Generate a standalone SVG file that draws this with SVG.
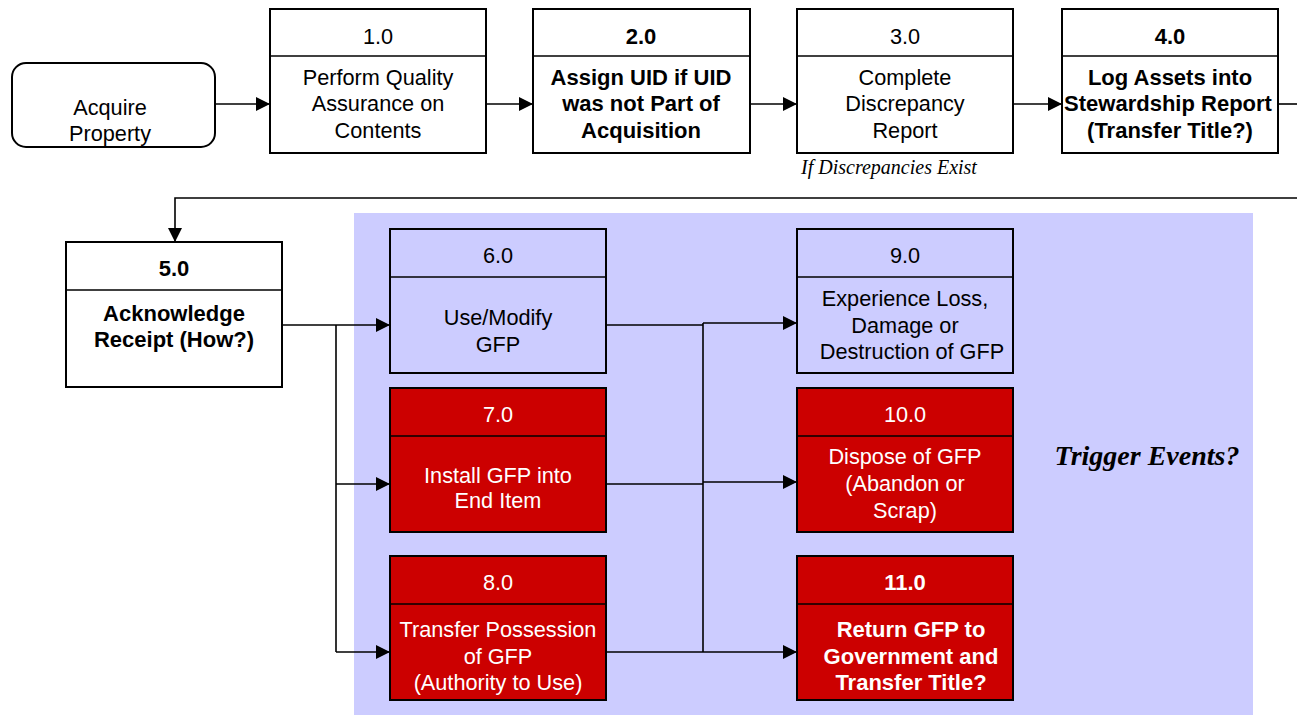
<svg xmlns="http://www.w3.org/2000/svg" width="1297" height="715" viewBox="0 0 1297 715">
<style>
.box{stroke:#000;stroke-width:2}
.w{fill:#fff}
.b{fill:#ccccff}
.r{fill:#cc0000}
.div{stroke:#000;stroke-width:1.5}
text{font-family:"Liberation Sans",Arial,sans-serif;font-size:21.7px;text-anchor:middle}
.bold{font-weight:bold;font-size:22px}
.wt{fill:#fff}
.con{fill:none;stroke:#000;stroke-width:1.6}
.serif{font-family:"Liberation Serif","Times New Roman",serif;font-style:italic}
</style>
<defs>
<marker id="ah" viewBox="0 0 14 14" refX="14" refY="7" markerWidth="14" markerHeight="14" markerUnits="userSpaceOnUse" orient="auto">
<path d="M0,0 L14,7 L0,14 Z" fill="#000"/>
</marker>
</defs>
<rect x="354" y="213" width="899" height="502" fill="#ccccff"/>
<g id="connectors">
<path class="con" d="M215,104 H270" marker-end="url(#ah)"/>
<path class="con" d="M486,104 H533" marker-end="url(#ah)"/>
<path class="con" d="M750,104 H797" marker-end="url(#ah)"/>
<path class="con" d="M1013,104 H1062" marker-end="url(#ah)"/>
<path class="con" d="M1278,104 H1297"/>
<path class="con" d="M1297,198 H175 V242" marker-end="url(#ah)"/>
<path class="con" d="M282,325 H390" marker-end="url(#ah)"/>
<path class="con" d="M336,325 V652"/>
<path class="con" d="M336,484 H390" marker-end="url(#ah)"/>
<path class="con" d="M336,652 H390" marker-end="url(#ah)"/>
<path class="con" d="M606,325 H703"/>
<path class="con" d="M703,323 H797" marker-end="url(#ah)"/>
<path class="con" d="M703,323 V652"/>
<path class="con" d="M606,484 H703"/>
<path class="con" d="M703,482 H797" marker-end="url(#ah)"/>
<path class="con" d="M606,652 H797" marker-end="url(#ah)"/>
</g>
<g id="acquire">
<rect class="box w" x="12" y="63" width="203" height="84" rx="14"/>
<text x="110" y="115">Acquire</text>
<text x="110" y="141">Property</text>
</g>
<g id="n1">
<rect class="box w" x="270" y="9" width="216" height="144"/>
<line class="div" x1="270" y1="56" x2="486" y2="56"/>
<text x="378" y="44">1.0</text>
<text x="378" y="85">Perform Quality</text>
<text x="378" y="111">Assurance on</text>
<text x="378" y="138">Contents</text>
</g>
<g id="n2">
<rect class="box w" x="533" y="9" width="217" height="144"/>
<line class="div" x1="533" y1="56" x2="750" y2="56"/>
<text class="bold" x="641" y="44">2.0</text>
<text class="bold" x="641" y="85">Assign UID if UID</text>
<text class="bold" x="641" y="111">was not Part of</text>
<text class="bold" x="641" y="138">Acquisition</text>
</g>
<g id="n3">
<rect class="box w" x="797" y="9" width="216" height="144"/>
<line class="div" x1="797" y1="56" x2="1013" y2="56"/>
<text x="905" y="44">3.0</text>
<text x="905" y="85">Complete</text>
<text x="905" y="111">Discrepancy</text>
<text x="905" y="138">Report</text>
<text class="serif" x="889" y="174" style="font-size:20px">If Discrepancies Exist</text>
</g>
<g id="n4">
<rect class="box w" x="1062" y="9" width="216" height="144"/>
<line class="div" x1="1062" y1="56" x2="1278" y2="56"/>
<text class="bold" x="1170" y="44">4.0</text>
<text class="bold" x="1170" y="85">Log Assets into</text>
<text class="bold" x="1168" y="111">Stewardship Report</text>
<text class="bold" x="1170" y="138">(Transfer Title?)</text>
</g>
<g id="n5">
<rect class="box w" x="66" y="242" width="216" height="145"/>
<line class="div" x1="66" y1="290" x2="282" y2="290"/>
<text class="bold" x="174" y="276">5.0</text>
<text class="bold" x="174" y="321">Acknowledge</text>
<text class="bold" x="174" y="347">Receipt (How?)</text>
</g>
<g id="n6">
<rect class="box b" x="390" y="229" width="216" height="144"/>
<line class="div" x1="390" y1="277" x2="606" y2="277"/>
<text x="498" y="263">6.0</text>
<text x="498" y="325">Use/Modify</text>
<text x="498" y="352">GFP</text>
</g>
<g id="n9">
<rect class="box b" x="797" y="229" width="216" height="144"/>
<line class="div" x1="797" y1="277" x2="1013" y2="277"/>
<text x="905" y="263">9.0</text>
<text x="905" y="306">Experience Loss,</text>
<text x="905" y="333">Damage or</text>
<text x="912" y="359">Destruction of GFP</text>
</g>
<g id="n7">
<rect class="box r" x="390" y="388" width="216" height="144"/>
<line class="div" x1="390" y1="436" x2="606" y2="436"/>
<text class="wt" x="498" y="422">7.0</text>
<text class="wt" x="498" y="483">Install GFP into</text>
<text class="wt" x="498" y="508">End Item</text>
</g>
<g id="n10">
<rect class="box r" x="797" y="388" width="216" height="144"/>
<line class="div" x1="797" y1="436" x2="1013" y2="436"/>
<text class="wt" x="905" y="422">10.0</text>
<text class="wt" x="905" y="464">Dispose of GFP</text>
<text class="wt" x="905" y="491">(Abandon or</text>
<text class="wt" x="905" y="518">Scrap)</text>
</g>
<g id="n8">
<rect class="box r" x="390" y="556" width="216" height="144"/>
<line class="div" x1="390" y1="604" x2="606" y2="604"/>
<text class="wt" x="498" y="590">8.0</text>
<text class="wt" x="498" y="637">Transfer Possession</text>
<text class="wt" x="498" y="664">of GFP</text>
<text class="wt" x="498" y="690">(Authority to Use)</text>
</g>
<g id="n11">
<rect class="box r" x="797" y="556" width="216" height="144"/>
<line class="div" x1="797" y1="604" x2="1013" y2="604"/>
<text class="wt bold" x="905" y="590">11.0</text>
<text class="wt bold" x="911" y="637">Return GFP to</text>
<text class="wt bold" x="911" y="664">Government and</text>
<text class="wt bold" x="911" y="690">Transfer Title?</text>
</g>
<g id="trigger">
<text class="serif" x="1147" y="465" style="font-size:28px;font-weight:bold">Trigger Events?</text>
</g>
</svg>
